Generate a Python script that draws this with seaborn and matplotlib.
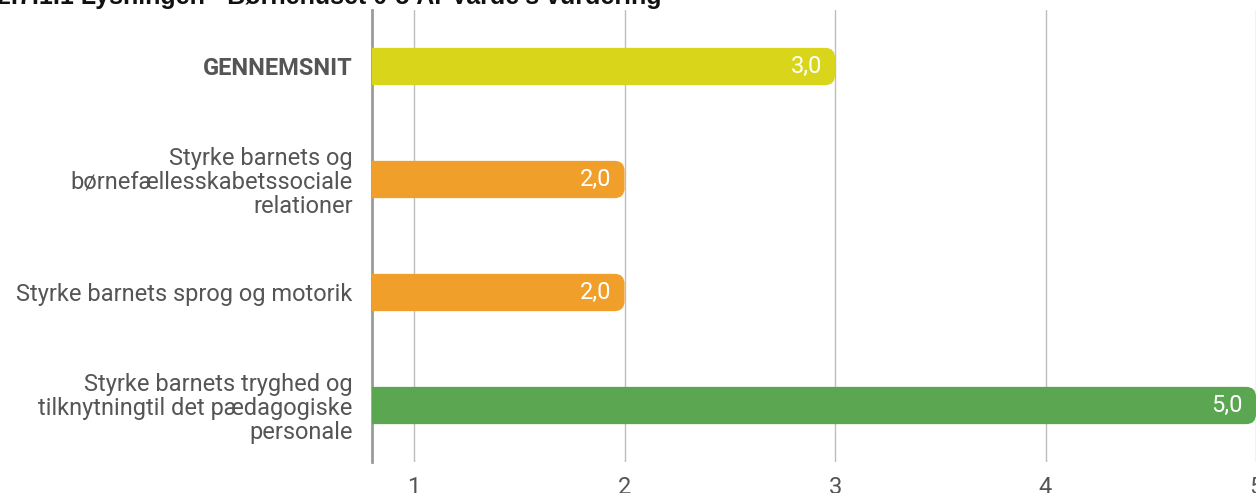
import pandas as pd
import matplotlib
matplotlib.use('Agg')
import matplotlib.pyplot as plt
import seaborn as sns
from matplotlib.patches import FancyBboxPatch

# Data
kategorier = ['GENNEMSNIT',
              'Styrke barnets og\nbørnefællesskabetssociale\nrelationer',
              'Styrke barnets sprog og motorik',
              'Styrke barnets tryghed og\ntilknytningtil det pædagogiske\npersonale']
vaerdier = [3.0, 2.0, 2.0, 5.0]
farver = ['#d9d51b', '#f0a02a', '#f0a02a', '#5ba651']
x_ticks = [1, 2, 3, 4, 5]
titel = "2.7.1.1 Lysningen - Børnehuset 0-5 År Varde's vurdering"

df = pd.DataFrame({'kategori': kategorier, 'vaerdi': vaerdier})

sns.set_style('white')
plt.rcParams['font.family'] = ['Roboto', 'DejaVu Sans']
tekstfarve = '#555555'

fig = plt.figure(figsize=(12.56, 4.93), dpi=100)
ax = fig.add_axes([372 / 1256, 1 - 462 / 493, 1 - 372 / 1256, (462 - 10) / 493])

sns.barplot(data=df, x='vaerdi', y='kategori', hue='kategori', palette=farver,
            saturation=1, legend=False, width=0.33, orient='h', ax=ax)

ax.set_xlim(0.8, 5)
ax.set_ylim(3.5, -0.5)

# rundede hjørner
r = 10 / 210.5
aspekt = (10 / 113) / r
for p in list(ax.patches):
    ny = FancyBboxPatch((p.get_x(), p.get_y()), p.get_width(), p.get_height(),
                        boxstyle=f'round,pad=0,rounding_size={r}',
                        mutation_aspect=aspekt, facecolor=p.get_facecolor(),
                        edgecolor='none', zorder=3)
    p.set_visible(False)
    ax.add_patch(ny)
    ax.text(p.get_x() + p.get_width() - 0.062, p.get_y() + p.get_height() / 2,
            f'{p.get_width():.1f}'.replace('.', ','), ha='right', va='center',
            color='white', fontsize=17, zorder=4)

ax.set_xticks(x_ticks)
ax.set_xticklabels([str(t) for t in x_ticks])
ax.grid(axis='x', color='#bdbdbd', linewidth=1, zorder=0)
ax.set_axisbelow(True)
for s in ['top', 'right', 'bottom']:
    ax.spines[s].set_visible(False)
ax.spines['left'].set_color('#9a9a9a')
ax.spines['left'].set_linewidth(2)
ax.tick_params(axis='x', length=0, pad=10, labelsize=17, labelcolor=tekstfarve)
ax.tick_params(axis='y', length=0, pad=14, labelsize=17, labelcolor=tekstfarve)
for lbl in ax.get_yticklabels():
    lbl.set_linespacing(1.05)
    if lbl.get_text() == 'GENNEMSNIT':
        lbl.set_fontweight('bold')
ax.set_xlabel('')
ax.set_ylabel('')

fig.text(-3 / 1256, 1 - 4 / 493, titel, ha='left', va='baseline',
         fontsize=18, fontweight='bold', color='#111111',
         family=['Liberation Sans', 'DejaVu Sans'])

fig.savefig('out.png', dpi=100)
